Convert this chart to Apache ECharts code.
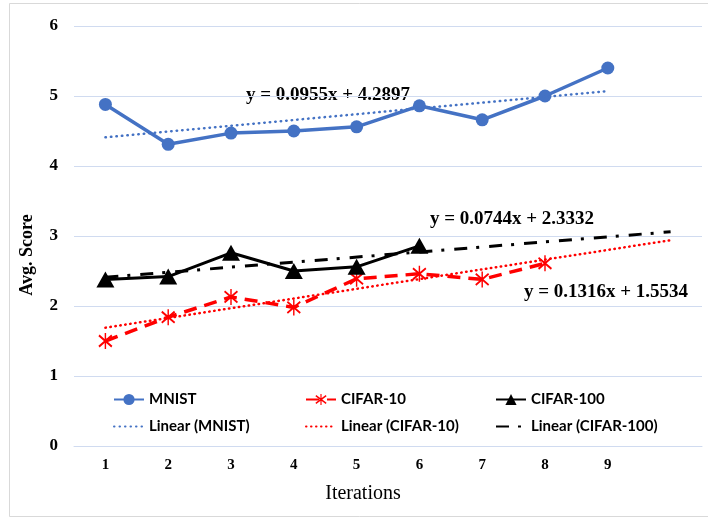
<!DOCTYPE html>
<html>
<head>
<meta charset="utf-8">
<script src="https://cdn.jsdelivr.net/npm/echarts@6/dist/echarts.min.js"></script>
<style>
  html, body { margin: 0; padding: 0; background: #fff; }
  #chart { width: 708px; height: 521px; }
</style>
</head>
<body>
<div id="chart"></div>
<script>
// iterations on the x axis (10th slot is empty, trendlines forecast into it)
const iterations = ['1', '2', '3', '4', '5', '6', '7', '8', '9', ''];

// avg. scores
const mnist = [4.88, 4.31, 4.47, 4.50, 4.56, 4.86, 4.66, 5.00, 5.40];
const cifar10 = [1.50, 1.84, 2.13, 1.98, 2.39, 2.46, 2.38, 2.61];
const cifar100 = [2.38, 2.42, 2.76, 2.50, 2.56, 2.86];

// linear trendline end points (x = iteration, y = score)
const mnistTrendX = [1, 9];
const mnistTrendY = [4.41, 5.07];
const cifar10TrendX = [1, 10];
const cifar10TrendY = [1.69, 2.94];
const cifar100TrendX = [1, 10];
const cifar100TrendY = [2.41, 3.06];

const yTicks = [0, 6, 1]; // min, max, step

const equations = ['y = 0.0955x + 4.2897', 'y = 0.0744x + 2.3332', 'y = 0.1316x + 1.5534'];

const BLUE = '#4472C4';
const RED = '#FF0000';
const BLACK = '#000000';
const GRID = '#D0DBF0';
const SERIF = '"Liberation Serif", "Times New Roman", serif';
const SANS = 'Lato, "Noto Sans", sans-serif';

// six armed asterisk for CIFAR-10
const asterisk = 'path://M9 0L11 0L11 20L9 20Z' +
  'M1.77 2.01L19.77 16.01L18.23 17.99L0.23 3.99Z' +
  'M19.77 3.99L1.77 17.99L0.23 16.01L18.23 2.01Z';

function pairs(xs, ys) {
  return xs.map((x, i) => [x, ys[i]]);
}

const chart = echarts.init(document.getElementById('chart'), null, { renderer: 'canvas' });

function legendBox(left, names) {
  return {
    left: left,
    top: 387,
    orient: 'vertical',
    itemWidth: 30,
    itemHeight: 14,
    itemGap: 12,
    // trendlines: line only, no marker in the key
    data: [names[0], { name: names[1], itemStyle: { opacity: 0 } }],
    textStyle: { fontFamily: SANS, fontWeight: 'bold', fontSize: 15, color: '#000' }
  };
}

const option = {
  animation: false,
  backgroundColor: '#fff',
  grid: { left: 74, right: 6, top: 26, bottom: 75, containLabel: false },
  legend: [
    legendBox(108, ['MNIST', 'Linear (MNIST)']),
    legendBox(300, ['CIFAR-10', 'Linear (CIFAR-10)']),
    legendBox(490, ['CIFAR-100', 'Linear (CIFAR-100)'])
  ],
  xAxis: [
    {
      type: 'category',
      data: iterations,
      boundaryGap: true,
      axisLine: { lineStyle: { color: GRID } },
      axisTick: { show: false },
      axisLabel: {
        margin: 12,
        fontFamily: SERIF, fontWeight: 'bold', fontSize: 15, color: '#000'
      }
    },
    {
      // hidden numeric axis for trendlines, same span as the category slots
      type: 'value',
      min: 0.5,
      max: 10.5,
      show: false
    }
  ],
  yAxis: {
    type: 'value',
    min: yTicks[0],
    max: yTicks[1],
    interval: yTicks[2],
    axisLine: { show: false },
    axisTick: { show: false },
    splitLine: { lineStyle: { color: GRID, width: 1 } },
    axisLabel: {
      margin: 16,
      fontFamily: SERIF, fontWeight: 'bold', fontSize: 17, color: '#000'
    }
  },
  series: [
    {
      name: 'MNIST',
      type: 'line',
      data: mnist,
      symbol: 'circle',
      symbolSize: 13,
      color: BLUE,
      lineStyle: { color: BLUE, width: 3.5 },
      itemStyle: { color: BLUE },
      z: 3
    },
    {
      name: 'CIFAR-10',
      type: 'line',
      data: cifar10,
      symbol: asterisk,
      symbolSize: [14, 16],
      color: RED,
      lineStyle: { color: RED, width: 3.5, type: [13, 8] },
      itemStyle: { color: RED },
      z: 3
    },
    {
      name: 'CIFAR-100',
      type: 'line',
      data: cifar100,
      symbol: 'triangle',
      symbolSize: [18, 16],
      color: BLACK,
      lineStyle: { color: BLACK, width: 3 },
      itemStyle: { color: BLACK },
      z: 3
    },
    {
      name: 'Linear (MNIST)',
      type: 'line',
      xAxisIndex: 1,
      data: pairs(mnistTrendX, mnistTrendY),
      symbol: 'none',
      color: BLUE,
      lineStyle: { color: BLUE, width: 2.5, type: [0.5, 5], cap: 'round' },
      z: 4
    },
    {
      name: 'Linear (CIFAR-10)',
      type: 'line',
      xAxisIndex: 1,
      data: pairs(cifar10TrendX, cifar10TrendY),
      symbol: 'none',
      color: RED,
      lineStyle: { color: RED, width: 2.5, type: [0.5, 4.5], cap: 'round' },
      z: 4
    },
    {
      name: 'Linear (CIFAR-100)',
      type: 'line',
      xAxisIndex: 1,
      data: pairs(cifar100TrendX, cifar100TrendY),
      symbol: 'none',
      color: BLACK,
      lineStyle: { color: BLACK, width: 3, type: [13, 9, 3, 10] },
      z: 4
    }
  ],
  graphic: [
    {
      type: 'rect',
      shape: { x: 9.5, y: 3.5, width: 720, height: 513 },
      style: { fill: 'none', stroke: '#D9D9D9', lineWidth: 1 },
      silent: true
    },
    {
      type: 'text',
      x: 27, y: 255,
      rotation: Math.PI / 2,
      style: {
        text: 'Avg. Score', fontFamily: SERIF, fontWeight: 'bold', fontSize: 18,
        fill: '#000', align: 'center', verticalAlign: 'middle'
      }
    },
    {
      type: 'text',
      x: 363, y: 494,
      style: {
        text: 'Iterations', fontFamily: SERIF, fontSize: 20,
        fill: '#000', align: 'center', verticalAlign: 'middle'
      }
    },
    {
      type: 'text',
      x: 328, y: 95,
      style: {
        text: equations[0], fontFamily: SERIF, fontWeight: 'bold', fontSize: 19,
        fill: '#000', align: 'center', verticalAlign: 'middle'
      }
    },
    {
      type: 'text',
      x: 512, y: 219,
      style: {
        text: equations[1], fontFamily: SERIF, fontWeight: 'bold', fontSize: 19,
        fill: '#000', align: 'center', verticalAlign: 'middle'
      }
    },
    {
      type: 'text',
      x: 606, y: 292,
      style: {
        text: equations[2], fontFamily: SERIF, fontWeight: 'bold', fontSize: 19,
        fill: '#000', align: 'center', verticalAlign: 'middle'
      }
    }
  ]
};

chart.setOption(option);
</script>
</body>
</html>
